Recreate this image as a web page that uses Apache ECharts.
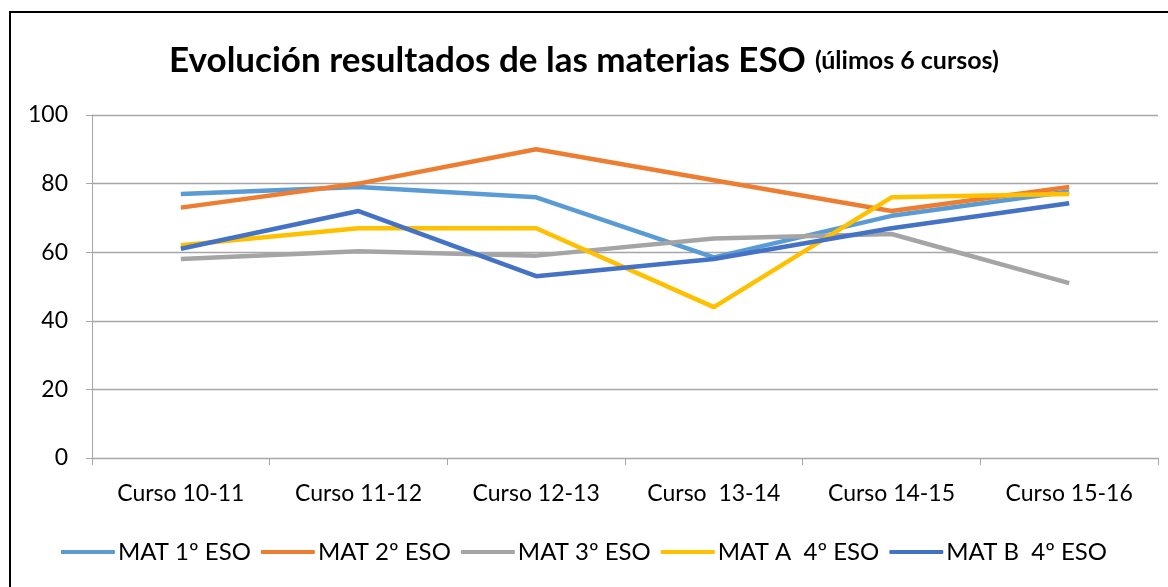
<!DOCTYPE html>
<html>
<head>
<meta charset="utf-8">
<script src="https://cdn.jsdelivr.net/npm/echarts@6/dist/echarts.min.js"></script>
<style>
    html, body {
        margin: 0;
        padding: 0;
        background: #fff;
        overflow: hidden;
    }
    .frame {
        position: absolute;
        left: 9px;
        top: 11px;
        width: 1200px;
        height: 620px;
        border: 2px solid #000;
    }
    #chart {
        position: absolute;
        left: 0;
        top: 0;
        width: 1168px;
        height: 587px;
    }
</style>
</head>
<body>
<div class="frame"></div>
<div id="chart"></div>
<script>
// 课程（x 轴）
const cursos = ['Curso 10-11', 'Curso 11-12', 'Curso 12-13', 'Curso  13-14', 'Curso 14-15', 'Curso 15-16']

// 各科目结果
const mat1 = [77, 79, 76, 58.5, 70.6, 77.7]
const mat2 = [73, 80, 90, 81, 72, 79]
const mat3 = [58, 60.3, 59, 64, 65.3, 51]
const matA4 = [62, 67, 67, 44, 76, 77]
const matB4 = [61, 72, 53, 58, 67, 74.3]

const seriesNames = ['MAT 1º ESO', 'MAT 2º ESO', 'MAT 3º ESO', 'MAT A  4º ESO', 'MAT B  4º ESO']
const seriesData = [mat1, mat2, mat3, matA4, matB4]
const colors = ['#5B9BD5', '#ED7D31', '#A5A5A5', '#FFC000', '#4472C4']

const font = 'Lato, "Open Sans", sans-serif'

const chart = echarts.init(document.getElementById('chart'))
chart.setOption({
    animation: false,
    color: colors,
    title: {
        text: '{a|Evolución resultados de las materias ESO} {b|(úlimos 6 cursos)}',
        left: 'center',
        top: 38,
        textStyle: {
            rich: {
                a: { fontFamily: font, fontWeight: 'bold', fontSize: 35, color: '#000' },
                b: { fontFamily: font, fontWeight: 'bold', fontSize: 25, color: '#000', padding: [0, 0, 0, 4] },
            },
        },
    },
    grid: {
        left: 92,
        right: 10,
        top: 115,
        bottom: 129,
    },
    legend: {
        bottom: 18,
        left: 'center',
        icon: 'roundRect',
        itemWidth: 54,
        itemHeight: 4,
        itemGap: 10,
        textStyle: { fontFamily: font, fontSize: 24, color: '#000', padding: [0, 0, 0, -2] },
        data: seriesNames,
    },
    xAxis: {
        type: 'category',
        data: cursos,
        boundaryGap: true,
        axisLine: { lineStyle: { color: '#A6A6A6', width: 1 } },
        axisTick: { show: true, length: 7, lineStyle: { color: '#A6A6A6' } },
        axisLabel: { fontFamily: font, fontSize: 23, color: '#000', margin: 24 },
    },
    yAxis: {
        type: 'value',
        min: 0,
        max: 100,
        interval: 20,
        axisLine: { show: true, lineStyle: { color: '#A6A6A6', width: 1 } },
        axisTick: { show: true, length: 6, inside: false, lineStyle: { color: '#A6A6A6' } },
        axisLabel: { fontFamily: font, fontSize: 23, color: '#000', margin: 24 },
        splitLine: { lineStyle: { color: '#A6A6A6', width: 1.3 } },
    },
    series: seriesNames.map((name, i) => ({
        name: name,
        type: 'line',
        data: seriesData[i],
        symbol: 'none',
        lineStyle: { width: 4.5, color: colors[i] },
        itemStyle: { color: colors[i] },
    })),
})
</script>
</body>
</html>
